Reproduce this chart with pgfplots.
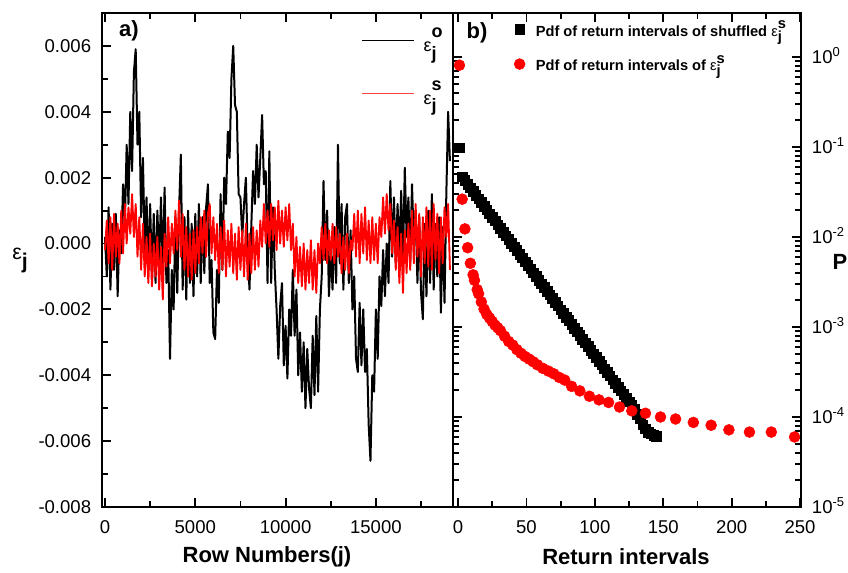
\documentclass[border=0pt]{standalone}
\usepackage{fontspec}
\setmainfont{Liberation Sans}
\usepackage{pgfplots}
\pgfplotsset{compat=1.18}

% epsilon with bold sub j and bold superscript
\newcommand{\epsA}[1]{ε\rlap{\raisebox{1.5ex}{\textbf{#1}}}\raisebox{-0.8ex}{\textbf{j}}}
\newcommand{\epsB}[1]{{\mdseries ε}\rlap{\raisebox{0.95ex}{\textbf{#1}}}\raisebox{-0.65ex}{\textbf{j}}}

\pgfplotsset{
  origin/.style={
    scale only axis,
    axis line style={line width=2.2pt},
    after end axis/.code={\draw[line width=2.2pt, line join=miter] (rel axis cs:0,0) rectangle (rel axis cs:1,1);},
    tick align=inside,
    major tick length=7pt,
    minor tick length=4.5pt,
    major tick style={line width=1.4pt, black},
    minor tick style={line width=1.4pt, black},
    tick label style={font=\fontsize{13.9}{15}\selectfont},
    /pgf/number format/assume math mode=true,
    xticklabel style={inner sep=0pt, yshift=-9.75pt},
    legend cell align=left,
  }
}

\begin{document}
\begin{tikzpicture}
\useasboundingbox (0,0) rectangle (636pt,429.75pt);

% ---------- panel a ----------
\begin{axis}[origin,
  at={(76.5pt,49.5pt)}, anchor=south west,
  width=263.25pt, height=370.5pt,
  xmin=-166, xmax=19270, ymin=-80, ymax=70,
  scaled x ticks=false,
  xtick={0,5000,10000,15000}, xticklabels={0,5000,10000,15000},
  minor xtick={2500,7500,12500,17500},
  ytick={-80,-60,...,60},
  yticklabels={-0.008,-0.006,-0.004,-0.002,0.000,0.002,0.004,0.006},
  minor ytick={-70,-50,...,50},
  ytick pos=left,
  yticklabel style={inner sep=0pt, xshift=-8pt},
  legend style={draw=none, fill=none, at={(0.738,0.976)}, anchor=north west,
    font=\fontsize{13.5}{15}\selectfont, row sep=16pt, inner sep=0pt,
    /tikz/every odd column/.append style={column sep=5pt}},
]
% y values in units of 1e-4
\addplot[black, line width=1.5pt, line join=round,
  legend image code/.code={\draw[black, line width=0.6pt] (0pt,0pt) -- (39pt,0pt);}] coordinates {
(0,2)(100,-10)(200,11)(300,-14)(400,6)(500,-8)(600,9)(700,-16)(800,4)(900,-3)
(1000,18)(1100,6)(1200,30)(1300,12)(1400,40)(1500,22)(1600,52)(1700,59)(1800,30)(1900,40)
(2000,8)(2100,26)(2200,-2)(2300,14)(2400,-8)(2500,12)(2600,-11)(2700,9)(2800,-12)(2900,10)
(3000,-6)(3100,14)(3200,-10)(3300,17)(3400,-12)(3500,-2)(3600,-35)(3700,-8)(3800,-20)(3900,8)
(4000,-15)(4100,10)(4200,27)(4300,-14)(4400,8)(4500,-17)(4600,10)(4700,-12)(4800,6)(4900,-16)
(5000,9)(5100,-10)(5200,12)(5300,-12)(5400,8)(5500,-9)(5600,11)(5700,18)(5800,-12)(5900,-5)
(6000,-27)(6100,-29)(6200,-8)(6300,-18)(6400,15)(6500,-8)(6600,20)(6700,12)(6800,34)(6900,26)
(7000,50)(7100,60)(7200,42)(7300,40)(7400,15)(7500,14)(7600,2)(7700,12)(7800,20)(7900,-2)
(8000,-14)(8100,5)(8200,22)(8300,12)(8400,30)(8500,14)(8600,26)(8700,39)(8800,18)(8900,22)
(9000,-12)(9100,28)(9200,-12)(9300,11)(9400,-8)(9500,-20)(9600,-35)(9700,-19)(9800,-12)(9900,-37)
(10000,-25)(10100,-41)(10200,-20)(10300,-28)(10400,-8)(10500,-28)(10600,-14)(10700,-40)(10800,-27)(10900,-45)
(11000,-30)(11100,-50)(11200,-32)(11300,-44)(11400,-50)(11500,-28)(11600,-46)(11700,-22)(11800,-45)(11900,-20)
(12000,-10)(12100,19)(12200,-5)(12300,10)(12400,-16)(12500,-2)(12600,-14)(12700,5)(12800,-12)(12900,30)
(13000,-6)(13100,12)(13200,-14)(13300,8)(13400,12)(13500,-12)(13600,4)(13700,-20)(13800,-10)(13900,-35)
(14000,-39)(14100,-18)(14200,-37)(14300,-20)(14400,-39)(14500,-32)(14600,-55)(14700,-66)(14800,-40)(14900,-45)
(15000,-20)(15100,-35)(15200,-10)(15300,-19)(15400,-2)(15500,-16)(15600,0)(15700,-12)(15800,19)(15900,-4)
(16000,14)(16100,-6)(16200,12)(16300,-4)(16400,16)(16500,-6)(16600,23)(16700,2)(16800,14)(16900,-6)
(17000,18)(17100,0)(17200,10)(17300,-12)(17400,8)(17500,-15)(17600,-23)(17700,6)(17800,-16)(17900,10)
(18000,-12)(18100,15)(18200,-14)(18300,6)(18400,-10)(18500,8)(18600,-21)(18700,5)(18800,-18)(18900,15)
(19000,40)(19100,25)
};
\addlegendentry{\epsA{o}}
\addplot[red, line width=1.4pt, line join=round,
  legend image code/.code={\draw[red!75!white, line width=0.7pt] (0pt,0pt) -- (39pt,0pt);}] coordinates {
(0,-2)(100,7)(200,-6)(300,8)(400,-8)(500,9)(600,-4)(700,6)(800,-6)(900,10)
(1000,-3)(1100,12)(1200,0)(1300,11)(1400,3)(1500,15)(1600,2)(1700,12)(1800,-4)(1900,8)
(2000,-8)(2100,6)(2200,-10)(2300,2)(2400,-12)(2500,3)(2600,-13)(2700,0)(2800,-10)(2900,2)
(3000,-14)(3100,-1)(3200,-17)(3300,3)(3400,-7)(3500,8)(3600,-6)(3700,6)(3800,-3)(3900,10)
(4000,-2)(4100,13)(4200,-4)(4300,9)(4400,-8)(4500,5)(4600,-10)(4700,3)(4800,-11)(4900,4)
(5000,-9)(5100,5)(5200,-6)(5300,8)(5400,-3)(5500,10)(5600,-4)(5700,9)(5800,12)(5900,-3)
(6000,8)(6100,-5)(6200,6)(6300,-9)(6400,5)(6500,-8)(6600,7)(6700,-10)(6800,4)(6900,-7)
(7000,6)(7100,-9)(7200,3)(7300,-11)(7400,5)(7500,-8)(7600,4)(7700,-10)(7800,6)(7900,-11)
(8000,3)(8100,-9)(8200,5)(8300,-8)(8400,4)(8500,-7)(8600,7)(8700,-1)(8800,12)(8900,0)
(9000,10)(9100,-1)(9200,12)(9300,1)(9400,11)(9500,-2)(9600,13)(9700,0)(9800,10)(9900,-1)
(10000,11)(10100,1)(10200,12)(10300,-2)(10400,6)(10500,-10)(10600,2)(10700,-12)(10800,-1)(10900,-13)
(11000,0)(11100,-14)(11200,-2)(11300,-12)(11400,1)(11500,-14)(11600,-2)(11700,-15)(11800,0)(11900,-6)
(12000,5)(12100,-5)(12200,6)(12300,-6)(12400,4)(12500,-5)(12600,6)(12700,-6)(12800,5)(12900,-4)
(13000,3)(13100,-9)(13200,2)(13300,-8)(13400,3)(13500,-9)(13600,1)(13700,-2)(13800,9)(13900,-4)
(14000,10)(14100,-6)(14200,9)(14300,-3)(14400,11)(14500,-5)(14600,7)(14700,-6)(14800,8)(14900,-5)
(15000,6)(15100,-6)(15200,8)(15300,2)(15400,14)(15500,3)(15600,15)(15700,4)(15800,12)(15900,-3)
(16000,7)(16100,-8)(16200,5)(16300,-12)(16400,3)(16500,-15)(16600,4)(16700,-9)(16800,6)(16900,-8)
(17000,10)(17100,-6)(17200,12)(17300,-4)(17400,9)(17500,-10)(17600,8)(17700,-6)(17800,11)(17900,-7)
(18000,10)(18100,-8)(18200,12)(18300,-5)(18400,9)(18500,-9)(18600,8)(18700,-6)(18800,11)(18900,2)
(19000,12)(19100,-8)
};
\addlegendentry{\epsA{s}}
\end{axis}

% ---------- panel b ----------
\begin{axis}[origin,
  at={(339.75pt,49.5pt)}, anchor=south west,
  width=261pt, height=370.5pt,
  ymode=log,
  xmin=-3.7, xmax=250.7, ymin=1e-5, ymax=3.08,
  xtick={0,50,...,250}, minor x tick num=1,
  ytick={1e-5,1e-4,1e-3,1e-2,1e-1,1},
  yticklabels={10\textsuperscript{-5},10\textsuperscript{-4},10\textsuperscript{-3},10\textsuperscript{-2},10\textsuperscript{-1},10\textsuperscript{0}},
  yticklabel pos=right,
  ytick pos=both,
  yticklabel style={anchor=base west, inner sep=0pt, xshift=8pt, yshift=-5pt},
  legend style={draw=none, fill=none, at={(0.175,0.99)}, anchor=north west,
    font=\bfseries\fontsize{11}{13}\selectfont, row sep=9pt, inner sep=0pt,
    /tikz/every odd column/.append style={column sep=6pt}},
]
\addplot[only marks, mark=square*, mark size=3.6pt, black] coordinates {
(1,0.098)(3,0.0468)(5,0.0426)(7,0.0387)(9,0.0352)(11,0.0321)(13,0.0292)(15,0.0265)
(17,0.0242)(19,0.0220)(21,0.0200)(23,0.0182)(25,0.0166)(27,0.0151)(29,0.0137)(31,0.01247)
(33,0.01135)(35,0.01033)(37,0.0094)(39,0.00855)(41,0.00778)(43,0.00708)(45,0.00644)(47,0.00586)
(49,0.00533)(51,0.00485)(53,0.00442)(55,0.00402)(57,0.00366)(59,0.00333)(61,0.00303)(63,0.00275)
(65,0.00251)(67,0.00228)(69,0.00207)(71,0.00189)(73,0.00172)(75,0.00156)(77,0.00142)(79,0.00129)
(81,0.00118)(83,0.00107)(85,0.000975)(87,0.000887)(89,0.000807)(91,0.000735)(93,0.000668)(95,0.000608)
(97,0.000553)(99,0.000504)(101,0.000458)(103,0.000417)(105,0.000379)(107,0.000345)(109,0.000314)(111,0.000286)
(113,0.00026)(115,0.000237)(117,0.000215)(119,0.000196)(121,0.000178)(123,0.000162)(125,0.000148)(127,0.000134)
(129,0.000122)(131,0.000108)(133,0.000096)(135,0.000082)(137,0.000074)(139,0.000068)(141,0.000065)(143,0.000063)
(145,0.000061)
};
\addlegendentry{Pdf of return intervals of shuffled \epsB{s}}
\addplot[only marks, mark=*, mark size=4.1pt, red, mark options={draw=red, fill=red}] coordinates {
(1,0.81)(3,0.0263)(5,0.0123)(7,0.0076)(9,0.0051)(11,0.0038)(12,0.0033)(14,0.0026)
(15,0.00234)(17,0.0019)(19,0.00158)(21,0.00138)(23,0.00126)(25,0.00115)(27,0.00105)(29,0.00098)
(31,0.00091)(34,0.00079)(37,0.00069)(40,0.00063)(43,0.00056)(46,0.00051)(49,0.00047)(52,0.00044)
(55,0.00041)(58,0.00038)(62,0.000347)(66,0.000324)(70,0.000302)(74,0.000275)(78,0.000257)(83,0.000219)
(89,0.000195)(96,0.00017)(103,0.000155)(110,0.000145)(118,0.000129)(127,0.000117)(137,0.00011)(148,0.0001)
(159,0.000095)(172,0.000087)(185,0.000081)(198,0.000072)(213,0.000068)(229,0.000068)(246,0.00006)
};
\addlegendentry{Pdf of return intervals of \epsB{s}}
\end{axis}

% labels
\node[font=\bfseries\fontsize{16.5}{18}\selectfont] at (200.25pt,12pt) {Row Numbers(j)};
\node[font=\bfseries\fontsize{16.5}{18}\selectfont] at (469.5pt,12pt) {Return intervals};
\node[font=\fontsize{16}{18}\selectfont] at (15pt,234.75pt) {ε\raisebox{-0.8ex}{\textbf{j}}};
\node[font=\bfseries\fontsize{16.5}{18}\selectfont] at (630pt,233.25pt) {P};
\node[font=\bfseries\fontsize{16.5}{18}\selectfont] at (96.75pt,406.5pt) {a)};
\node[font=\bfseries\fontsize{16.5}{18}\selectfont] at (357.75pt,405pt) {b)};
\end{tikzpicture}
\end{document}
